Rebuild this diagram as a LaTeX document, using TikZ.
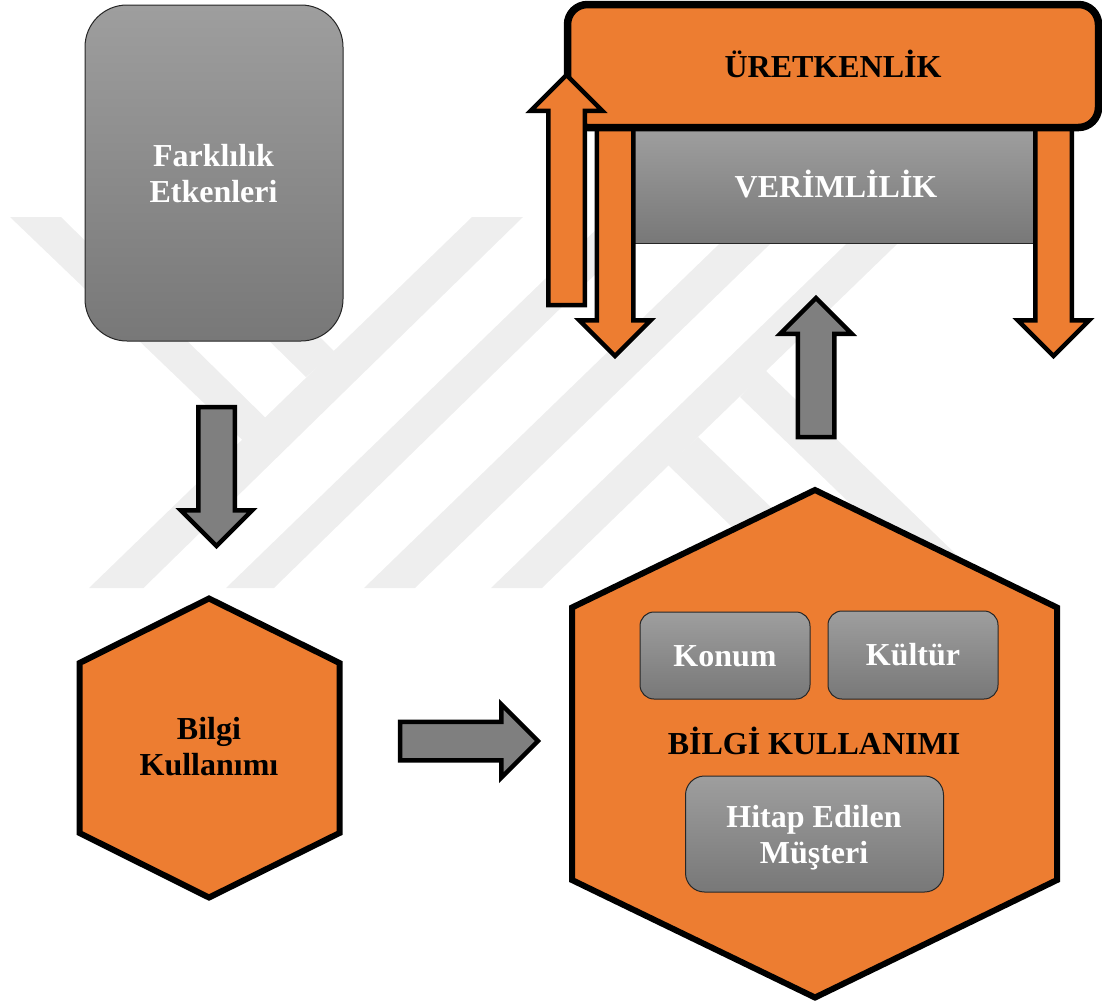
\documentclass[tikz,border=0pt]{standalone}
\usepackage{fontspec}
\setmainfont{Liberation Serif}
\usetikzlibrary{shapes.arrows}
\definecolor{turuncu}{HTML}{ED7D31}
\definecolor{griok}{HTML}{7F7F7F}
\definecolor{filigran}{HTML}{EEEEEE}
\tikzset{
  yazi/.style={font=\fontsize{32}{36}\selectfont\bfseries,align=center},
  kart/.style={draw=black!85,line width=1pt,top color=black!38,bottom color=black!53,rounded corners=#1},
  okblok/.style={shape=single arrow,draw=black,line width=4.5pt,outer sep=0pt,inner sep=16pt,
    single arrow head extend=17.5pt,single arrow tip angle=90,anchor=tip},
  altigen/.style={draw=black,fill=turuncu,miter limit=10}
}
\begin{document}
\begin{tikzpicture}[x=1pt,y=-1pt]
\useasboundingbox (0,0) rectangle (1102,1005);
% filigran
\fill [filigran] (10,217) -- (61,217) -- (280,432) -- (258,455) -- cycle;
\fill [filigran] (472,217) -- (523,217) -- (143.5,588) -- (89,588) -- cycle;
\fill [filigran] (143,217) -- (198,217) -- (335,352) -- (306,377) -- cycle;
\fill [filigran] (609,217) -- (654,217) -- (274,588) -- (226,588) -- cycle;
\fill [filigran] (747,217) -- (798,217) -- (415,588) -- (364,588) -- cycle;
\fill [filigran] (874,217) -- (925,217) -- (542,588) -- (491,588) -- cycle;
\fill [filigran] (765,370) -- (991,588) -- (937.5,588) -- (740,397) -- cycle;
\fill [filigran] (698,437) -- (855,588) -- (795,588) -- (668,465) -- cycle;
% sol taraf
\node [kart=42pt,minimum width=258pt,minimum height=336pt] (farklilik) at (214,173) {};
\node [yazi,text=white] (farklilikyazi) at (213.5,174) {Farklılık\\Etkenleri};
\draw [altigen,line width=6pt] (209,598.5) -- (339.5,663) -- (339.5,833) -- (209,897.5) -- (79.5,833) -- (79.5,663) -- cycle;
\node [yazi] (bilgi) at (209,747) {Bilgi\\Kullanımı};
% sag ust
\node [kart=0pt,minimum width=401pt,minimum height=113pt] (verimlilik) at (834.5,186.5) {};
\node [yazi,text=white] (verimlilikyazi) at (836,184.5) {VERİMLİLİK};
\node [okblok,fill=turuncu,minimum height=231pt,rotate=-90] (okvsol) at (615,356) {};
\node [okblok,fill=turuncu,minimum height=231pt,rotate=-90] (okvsag) at (1053.5,356) {};
\node [draw=black,fill=turuncu,line width=7.5pt,rounded corners=20pt,outer sep=0pt,minimum width=531pt,minimum height=123pt] (uretkenlik) at (833,66) {};
\node [yazi] (uretkenlikyazi) at (833,63.5) {ÜRETKENLİK};
\node [okblok,fill=turuncu,minimum height=230pt,rotate=90] (okuret) at (566.5,75) {};
% sag alt
\draw [altigen,line width=6pt] (815,490) -- (1057,607.5) -- (1057,880) -- (815,997.5) -- (572,880) -- (572,607.5) -- cycle;
\node [kart=14pt,minimum width=170pt,minimum height=87pt] (konum) at (725,655.5) {};
\node [yazi,text=white] (konumyazi) at (725,656) {Konum};
\node [kart=14pt,minimum width=170pt,minimum height=88pt] (kultur) at (913,655) {};
\node [yazi,text=white] (kulturyazi) at (913,655) {Kültür};
\node [yazi] (kullanim) at (814,741) {BİLGİ KULLANIMI};
\node [kart=19pt,minimum width=258pt,minimum height=116pt] (hitap) at (814.5,834) {};
\node [yazi,text=white] (hitapyazi) at (814,838) {Hitap Edilen\\Müşteri};
% griler
\node [okblok,fill=griok,minimum height=139pt,rotate=-90] (okfark) at (216.5,546) {};
\node [okblok,fill=griok,minimum height=139pt,rotate=90] (okverim) at (816,298) {};
\node [okblok,fill=griok,minimum height=138pt,inner sep=17pt] (okbilgi) at (538,741) {};
\end{tikzpicture}
\end{document}
